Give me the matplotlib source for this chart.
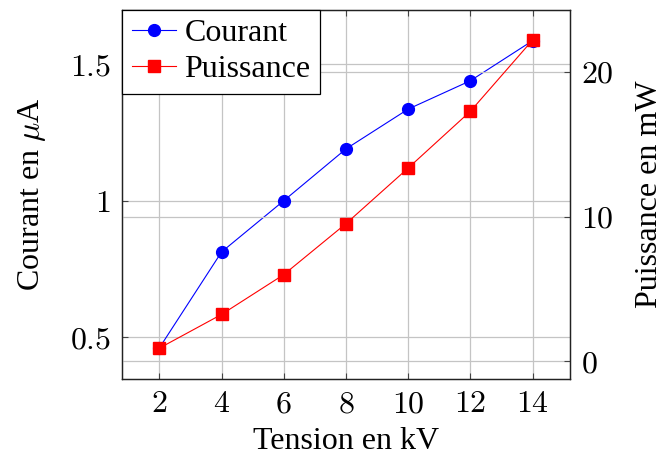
import matplotlib

matplotlib.use("Agg")
import matplotlib.pyplot as plt  # noqa: E402
from matplotlib.ticker import FuncFormatter  # noqa: E402

# Values
tension_kv = [2, 4, 6, 8, 10, 12, 14]
courant_ua = [0.46, 0.812, 1.0, 1.19, 1.336, 1.44, 1.587]
puissance_mw = [0.92, 3.25, 6.0, 9.52, 13.36, 17.28, 22.2]

x_ticks = [2, 4, 6, 8, 10, 12, 14]
courant_ticks = [0.5, 1.0, 1.5]
puissance_ticks = [0, 10, 20]

plt.rcParams["font.family"] = ["Liberation Serif", "DejaVu Serif"]
plt.rcParams["mathtext.fontset"] = "cm"
FS = 23
GRID = "#c4c4c4"


def math_fmt(v, _pos):
    s = f"{v:g}"
    return f"${s}$"


fig = plt.figure(figsize=(6.69, 4.55), dpi=100)
ax = fig.add_axes([0.1824, 0.167, 0.852 - 0.1824, 0.979 - 0.167])
ax2 = ax.twinx()

(l1,) = ax.plot(tension_kv, courant_ua, color="blue", lw=0.8, marker="o",
                markersize=8.5, label="Courant", zorder=3)
(l2,) = ax2.plot(tension_kv, puissance_mw, color="red", lw=0.8, marker="s",
                 markersize=8.5, label="Puissance", zorder=3)

ax.set_xlim(0.8, 15.2)
ax.set_ylim(0.346, 1.701)
ax2.set_ylim(-1.21, 24.3)

ax.set_xticks(x_ticks)
ax.set_yticks(courant_ticks)
ax2.set_yticks(puissance_ticks)
for a in (ax, ax2):
    a.xaxis.set_major_formatter(FuncFormatter(math_fmt))
    a.yaxis.set_major_formatter(FuncFormatter(math_fmt))

ax.grid(True, color=GRID, lw=0.9)
ax2.grid(True, axis="y", color=GRID, lw=0.9)
ax.set_axisbelow(True)
ax2.set_axisbelow(True)

ax.tick_params(axis="x", direction="in", length=4, top=True, labelsize=FS,
               pad=8, color="#444444")
ax.tick_params(axis="y", direction="in", length=4, labelsize=FS, pad=8,
               color="#444444")
ax2.tick_params(axis="y", direction="in", length=4, labelsize=FS, pad=8,
                color="#444444")

for a in (ax, ax2):
    for sp in a.spines.values():
        sp.set_color("#222222")
        sp.set_linewidth(0.9)

ax.set_xlabel("Tension en kV", fontsize=FS, labelpad=6)
ax.set_ylabel(r"Courant en $\mu$A", fontsize=FS, labelpad=16)
ax2.set_ylabel("Puissance en mW", fontsize=FS, labelpad=15)

leg = ax2.legend(handles=[l1, l2], loc="upper left", fontsize=FS,
                 borderaxespad=0, fancybox=False, framealpha=1,
                 edgecolor="black", handlelength=1.4, handletextpad=0.25,
                 borderpad=0.3, labelspacing=0.2)
leg.get_frame().set_linewidth(0.9)

fig.savefig("out.png", dpi=100)
